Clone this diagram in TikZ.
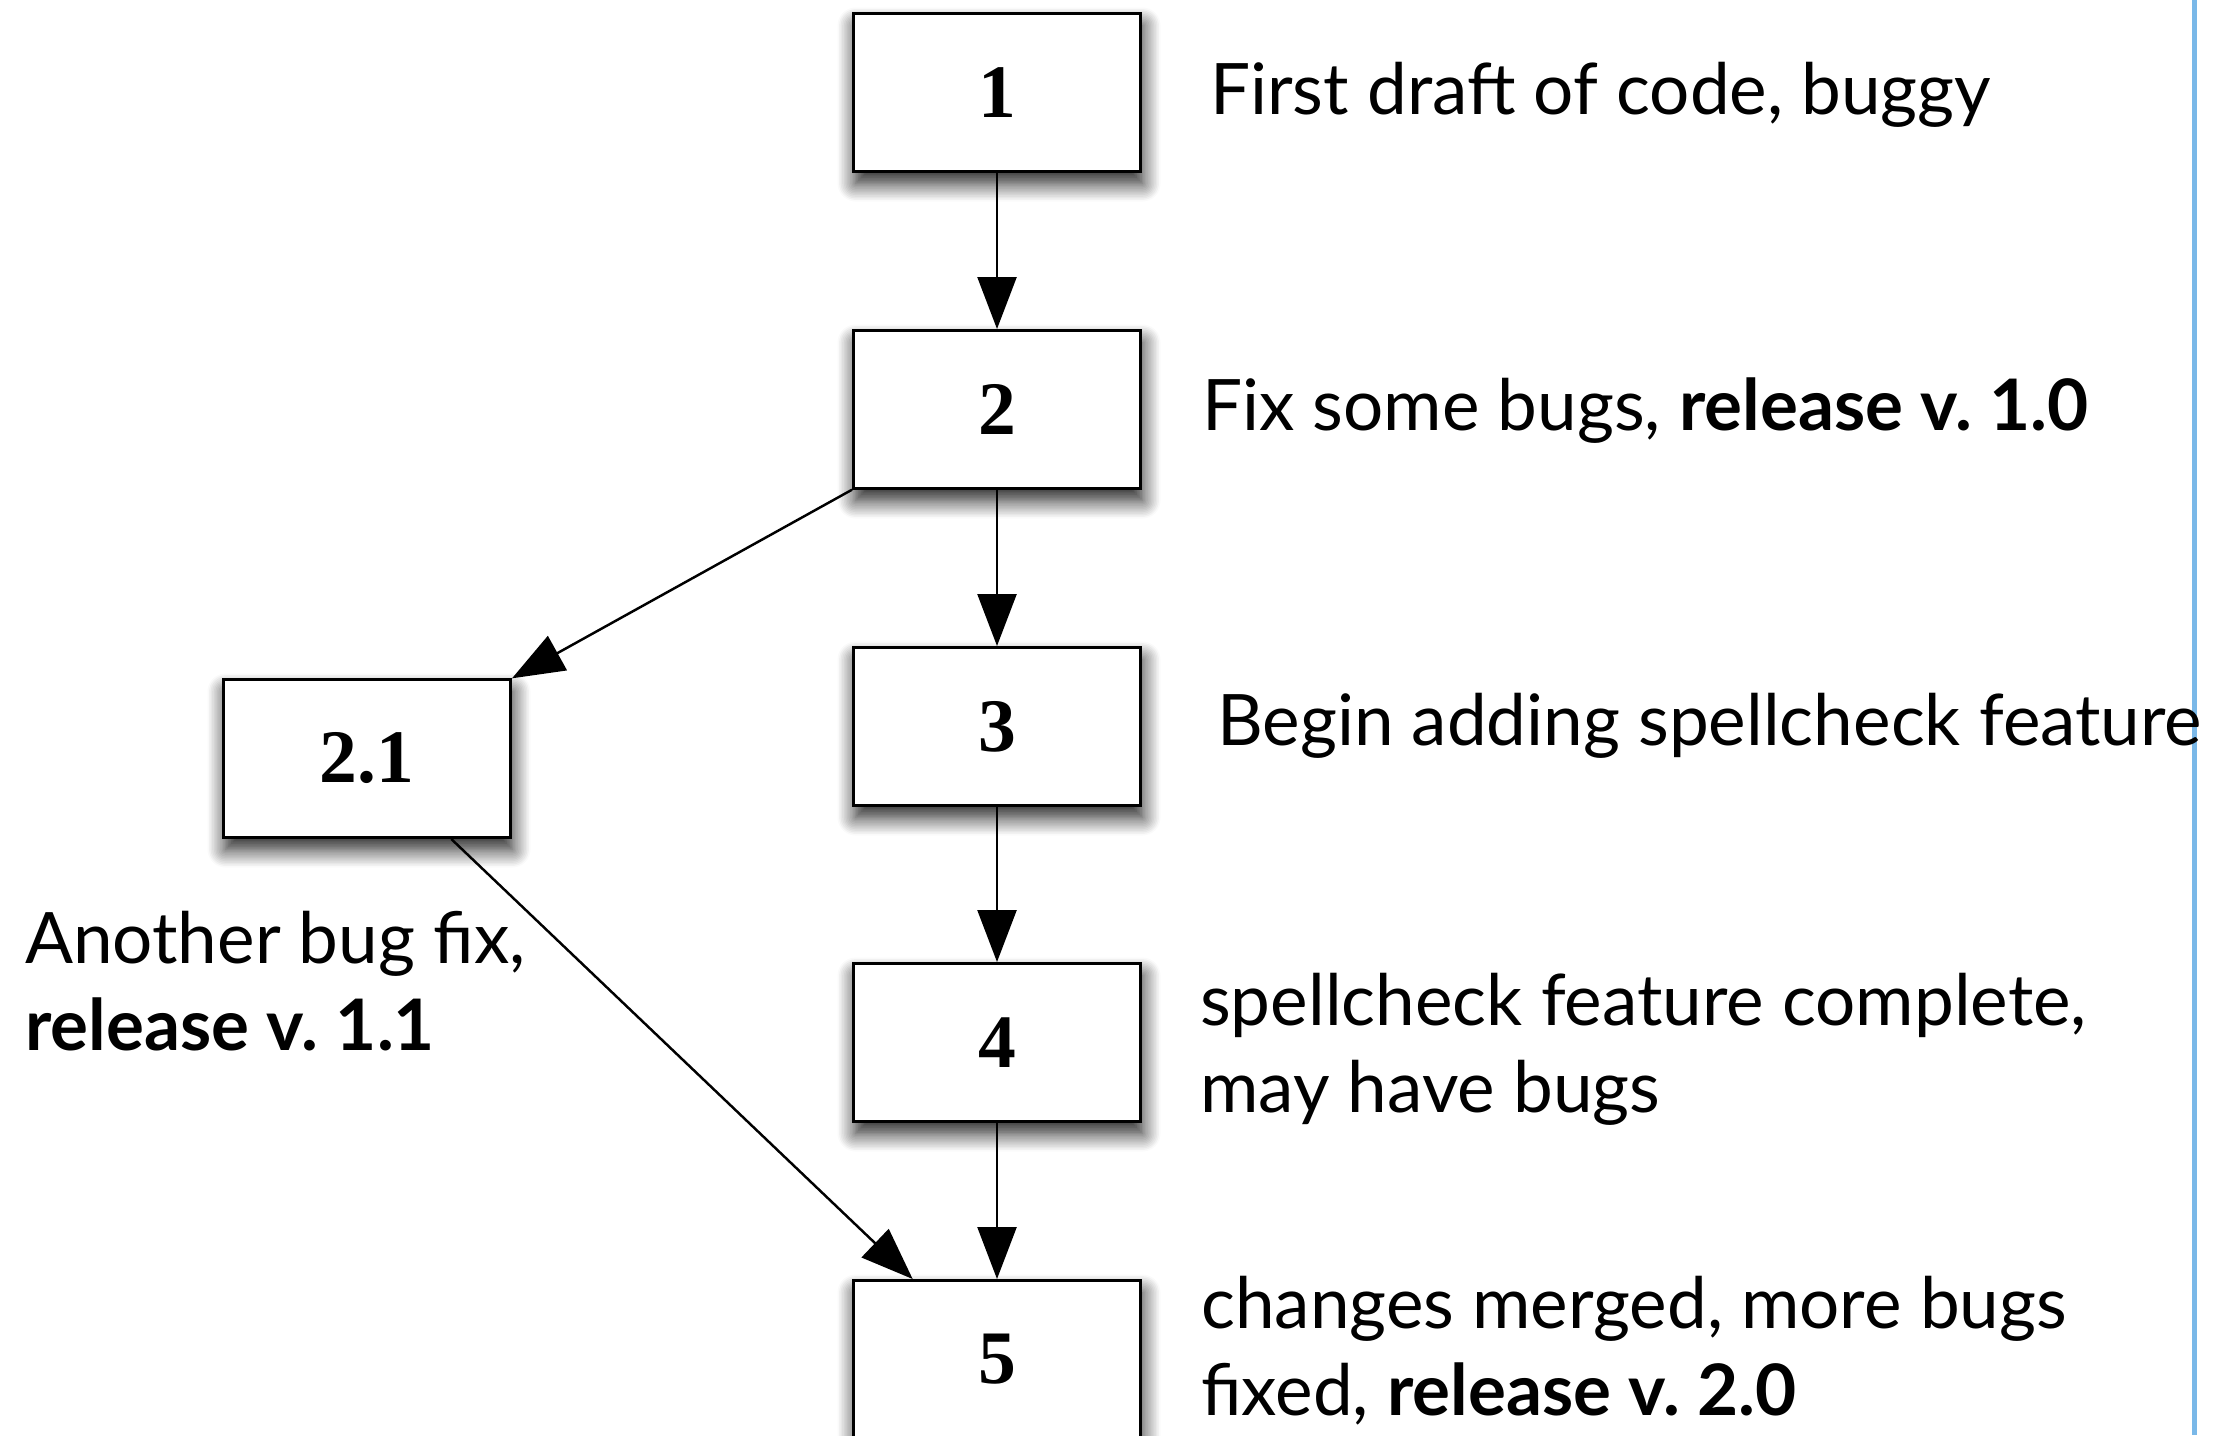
\documentclass[tikz,border=0pt]{standalone}
\usepackage{fontspec}
\setmainfont{Lato}
\newfontfamily\numfont{Liberation Serif}
\usetikzlibrary{arrows.meta,shadows.blur}
\definecolor{edgeblue}{RGB}{122,184,232}

\begin{document}
\begin{tikzpicture}[x=1mm,y=-1mm,->,>={Triangle[length=5.2mm,width=3.9mm]}]
	\tikzstyle{version}=[draw,line width=0.3mm,fill=white,minimum width=28.7mm,minimum height=15.8mm,font=\numfont\fontsize{21.5}{25}\selectfont\bfseries,blur shadow={shadow xshift=0.2mm,shadow yshift=-1.2mm,shadow blur radius=1.8mm,shadow blur steps=12,shadow opacity=90}];
	\tikzstyle{note}=[anchor=base west,inner sep=0pt,align=left,font=\fontsize{20.2}{24.5}\selectfont];
    \tikzstyle{every path}=[line width=0.7pt];

    \useasboundingbox (0,0) rectangle (221.6,143.5);

    \coordinate (edgetop) at (219.45,0);
    \coordinate (edgebot) at (219.45,143.5);
    \draw[-,edgeblue,line width=0.5mm] (edgetop) to (edgebot);

    \node at (99.7,9.25)   (v1) [version] {1};
    \node at (99.7,40.95)  (v2) [version] {2};
    \node at (99.7,72.65)  (v3) [version] {3};
    \node at (99.7,104.25) (v4) [version] {4};
    \node at (99.7,135.95) (v5) [version] {5};
    \node at (36.7,75.85)  (v21) [version] {2.1};

    % base anchor of a two-line note sits on its last line
    \node at (120.9,11.4)  (n1) [note] {First draft of code, buggy};
    \node at (120.1,43.0)  (n2) [note] {Fix some bugs, \textbf{release v.\ 1.0}};
    \node at (121.6,74.5)  (n3) [note] {Begin adding spellcheck feature};
    \node at (119.9,111.2) (n4) [note] {spellcheck feature complete,\\may have bugs};
    \node at (120.0,141.5) (n5) [note] {changes merged, more bugs\\fixed, \textbf{release v.\ 2.0}};
    \node at (2.4,105.0)   (n21) [note] {Another bug fix,\\\textbf{release v.\ 1.1}};

    \draw (v1) to (v2);
    \draw (v2) to (v3);
    \draw (v3) to (v4);
    \draw (v4) to (v5);
    \draw (v2) to (v21);
    \draw (v21) to (v5);
\end{tikzpicture}
\end{document}
